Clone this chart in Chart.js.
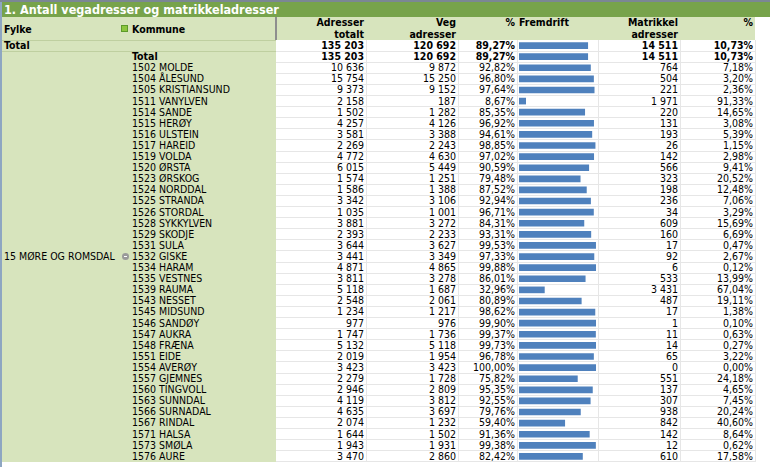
<!DOCTYPE html>
<html>
<head>
<meta charset="utf-8">
<script src="https://cdn.jsdelivr.net/npm/chart.js@4.4.1/dist/chart.umd.min.js"></script>
<style>
body{margin:0;width:770px;height:467px;overflow:hidden;background:#fff;position:relative;
  font-family:"DejaVu Sans Condensed","DejaVu Sans",sans-serif;font-size:10.5px;color:#000}
.a{position:absolute;white-space:nowrap}
.r{text-align:right}
.b{font-weight:bold}
</style>
</head>
<body>
<div id="page"></div>
<div class="a" style="left:519px;top:40px;width:77px;height:422px"><canvas id="bars"></canvas></div>
<script>
// data lest av bildet
const kommuner = ['1502 MOLDE','1504 ÅLESUND','1505 KRISTIANSUND','1511 VANYLVEN','1514 SANDE','1515 HERØY',
  '1516 ULSTEIN','1517 HAREID','1519 VOLDA','1520 ØRSTA','1523 ØRSKOG','1524 NORDDAL','1525 STRANDA',
  '1526 STORDAL','1528 SYKKYLVEN','1529 SKODJE','1531 SULA','1532 GISKE','1534 HARAM','1535 VESTNES',
  '1539 RAUMA','1543 NESSET','1545 MIDSUND','1546 SANDØY','1547 AUKRA','1548 FRÆNA','1551 EIDE',
  '1554 AVERØY','1557 GJEMNES','1560 TINGVOLL','1563 SUNNDAL','1566 SURNADAL','1567 RINDAL',
  '1571 HALSA','1573 SMØLA','1576 AURE'];
const adresserTotalt = [10636,15754,9373,2158,1502,4257,3581,2269,4772,6015,1574,1586,3342,1035,3881,2393,
  3644,3441,4871,3811,5118,2548,1234,977,1747,5132,2019,3423,2279,2946,4119,4635,2074,1644,1943,3470];
const vegAdresser = [9872,15250,9152,187,1282,4126,3388,2243,4630,5449,1251,1388,3106,1001,3272,2233,
  3627,3349,4865,3278,1687,2061,1217,976,1736,5118,1954,3423,1728,2809,3812,3697,1232,1502,1931,2860];
const vegPct = [92.82,96.80,97.64,8.67,85.35,96.92,94.61,98.85,97.02,90.59,79.48,87.52,92.94,96.71,84.31,
  93.31,99.53,97.33,99.88,86.01,32.96,80.89,98.62,99.90,99.37,99.73,96.78,100.00,75.82,95.35,92.55,
  79.76,59.40,91.36,99.38,82.42];
const matrikkelAdresser = [764,504,221,1971,220,131,193,26,142,566,323,198,236,34,609,160,17,92,6,533,
  3431,487,17,1,11,14,65,0,551,137,307,938,842,142,12,610];
const matrikkelPct = [7.18,3.20,2.36,91.33,14.65,3.08,5.39,1.15,2.98,9.41,20.52,12.48,7.06,3.29,15.69,
  6.69,0.47,2.67,0.12,13.99,67.04,19.11,1.38,0.10,0.63,0.27,3.22,0.00,24.18,4.65,7.45,20.24,40.60,
  8.64,0.62,17.58];
const total = {adr: 135203, veg: 120692, vegPct: 89.27, mat: 14511, matPct: 10.73};
const fylke = '15 MØRE OG ROMSDAL';

const RH = 11.1, TOP = 40;
const cols = [366, 458, 517, 598, 680, 755]; // høyre kant av kolonnene
const page = document.getElementById('page');

function fmt(n) { return String(n).replace(/\B(?=(\d{3})+(?!\d))/g, ' '); }
function pct(v) { return v.toFixed(2).replace('.', ',') + '%'; }
function box(css, html, cls) {
  const d = document.createElement('div');
  d.className = 'a ' + (cls || '');
  d.style.cssText = css;
  if (html) d.innerHTML = html;
  page.appendChild(d);
  return d;
}

// ramme, tittel, hode
box('left:0;top:0;width:2px;height:467px;background:#8ea6c2');
box('left:0;top:0;width:770px;height:2px;background:#7b8794');
box('left:2px;top:2px;width:768px;height:15px;background:#77a34b');
box('left:4px;top:2px;height:15px;line-height:15px;color:#fff;font-size:12.5px', '1. Antall vegadresser og matrikkeladresser', 'b');
box('left:2px;top:17px;width:753px;height:23px;background:#d7e4bd');
box('left:275px;top:17px;width:2px;height:23px;background:#8e8e8e');
box('left:2px;top:40px;width:274px;height:422px;background:#d7e4bd');
box('left:2px;top:40px;width:274px;height:1px;background:#bfcfa0');
box('left:2px;top:51px;width:274px;height:1px;background:#bfcfa0');

box('left:4px;top:23px;line-height:12px', 'Fylke', 'b');
box('left:121px;top:25px;width:5px;height:5px;background:#8cc63e;border:1px solid #5c9a2a');
box('left:132px;top:23px;line-height:12px', 'Kommune', 'b');
const heads = [['Adresser<br>totalt', 0], ['Veg<br>adresser', 1], ['%', 2], ['Matrikkel<br>adresser', 4], ['%', 5]];
heads.forEach(h => box('right:' + (770 - cols[h[1]] + 2) + 'px;top:17px;line-height:11.5px', h[0], 'b r'));
box('left:519px;top:17px;line-height:11.5px', 'Fremdrift', 'b');

// rutenett i hvitt område
const nRows = kommuner.length + 2;
for (let i = 0; i <= nRows; i++) {
  box('left:276px;top:' + (TOP + i * RH + RH - 0.5).toFixed(1) + 'px;width:479px;height:1px;background:#e6e6e6');
}
cols.forEach(x => box('left:' + x + 'px;top:40px;width:1px;height:422px;background:#e6e6e6'));

function row(i, name, a, v, vp, m, mp, bold) {
  const t = 'top:' + (TOP + i * RH).toFixed(2) + 'px;height:' + RH + 'px;line-height:' + RH + 'px;';
  const c = bold ? 'b' : '';
  if (name) box(t + 'left:132px', name, c);
  [a, v, vp, null, m, mp].forEach((s, k) => {
    if (s !== null) box(t + 'right:' + (770 - cols[k] + 2) + 'px', s, c + ' r');
  });
}
box('left:4px;top:' + TOP + 'px;line-height:' + RH + 'px', 'Total', 'b');
row(0, '', fmt(total.adr), fmt(total.veg), pct(total.vegPct), fmt(total.mat), pct(total.matPct), true);
row(1, 'Total', fmt(total.adr), fmt(total.veg), pct(total.vegPct), fmt(total.mat), pct(total.matPct), true);
kommuner.forEach((k, i) => row(i + 2, k, fmt(adresserTotalt[i]), fmt(vegAdresser[i]), pct(vegPct[i]),
  fmt(matrikkelAdresser[i]), pct(matrikkelPct[i]), false));

const midY = TOP + RH + (nRows - 1) * RH / 2;
box('left:4px;top:' + (midY - 6) + 'px;line-height:12px', fylke);
box('left:122px;top:' + (midY - 3.5) + 'px;width:7px;height:7px;border-radius:50%;background:#9a9a9a');
box('left:124px;top:' + (midY - 0.5) + 'px;width:3px;height:1px;background:#fff');

// Fremdrift-søyler
const labels = ['Total', 'Total', ...kommuner];
const fremdrift = [total.vegPct, total.vegPct, ...vegPct];
new Chart(document.getElementById('bars'), {
  type: 'bar',
  data: {
    labels: labels,
    datasets: [{
      data: fremdrift,
      backgroundColor: '#4f81bd',
      barThickness: 6
    }]
  },
  options: {
    indexAxis: 'y',
    responsive: true,
    maintainAspectRatio: false,
    animation: false,
    layout: { padding: 0 },
    plugins: { legend: { display: false }, tooltip: { enabled: false } },
    scales: {
      x: { display: false, min: 0, max: 100 },
      y: { display: false }
    }
  }
});
</script>
</body>
</html>
